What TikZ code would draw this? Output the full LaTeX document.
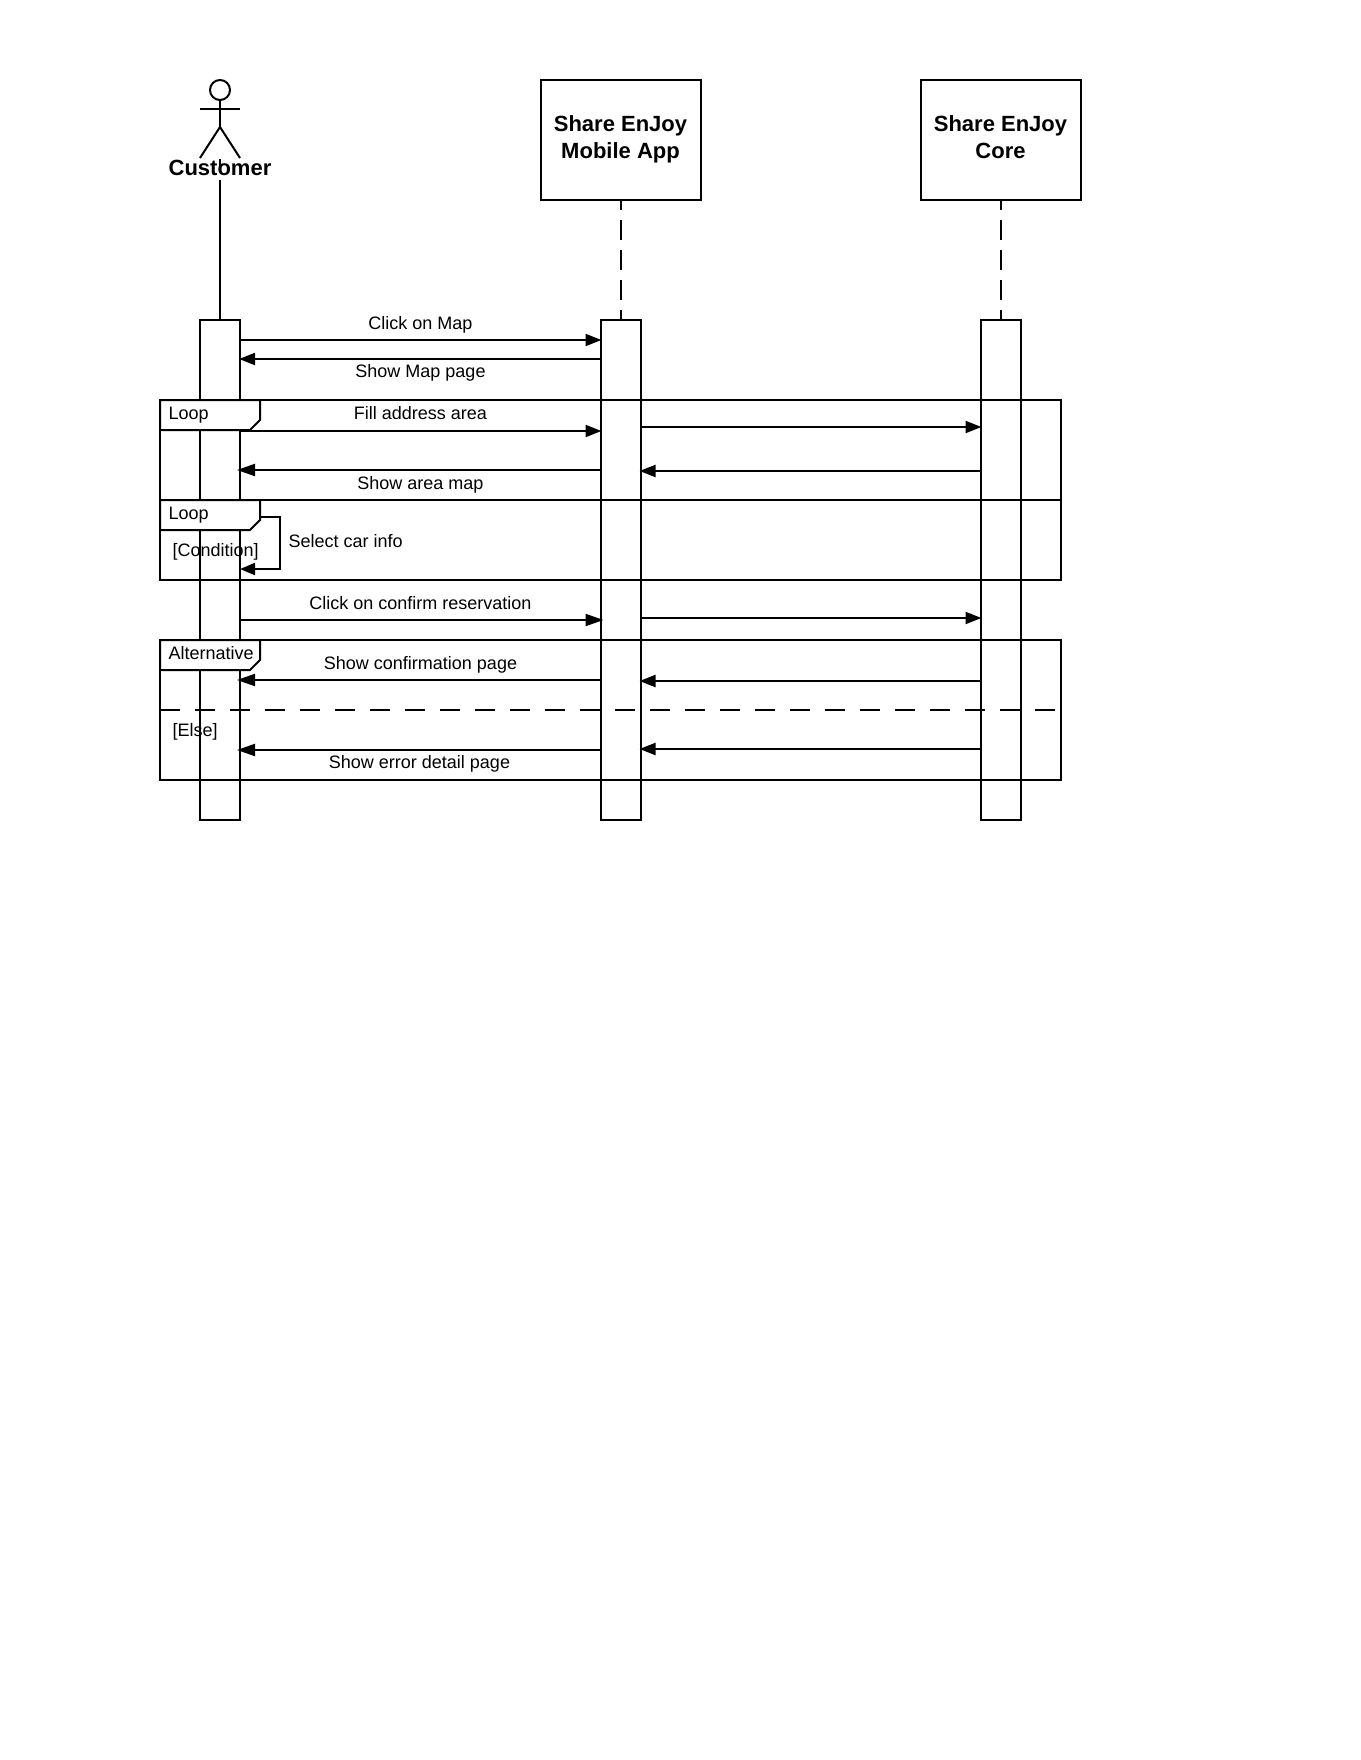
\documentclass[tikz,border=0pt]{standalone}
\usepackage{fontspec}
\setmainfont{Liberation Sans}
\usetikzlibrary{arrows.meta}
\begin{document}
\begin{tikzpicture}[x=1pt, y=-1pt, line width=2pt]
        \tikzstyle{head} = [draw, fill=white, inner sep=0, outer sep=0, minimum width=160pt, minimum height=120pt, align=center, text depth=6.2pt, font=\fontsize{22}{27}\selectfont\bfseries]
        \tikzstyle{bar} = [draw, fill=white, inner sep=0, outer sep=0, minimum width=40pt, minimum height=500pt]
        \tikzstyle{frm} = [draw, inner sep=0, outer sep=0, minimum width=901pt]
        \tikzstyle{tab} = [draw, fill=white]
        \tikzstyle{msg} = [inner sep=0, text height=13pt, text depth=4pt, font=\fontsize{18}{22}\selectfont]
        \tikzstyle{blk} = [draw, black, shorten >=-1pt, -{Triangle[length=16pt, width=12pt]}]
        \tikzstyle{blkover} = [draw, black, shorten >=-3pt, -{Triangle[length=18pt, width=12pt]}]
        \tikzstyle{life} = [draw, black, dash pattern=on 20pt off 10pt, dash phase=10pt]

        \useasboundingbox (0, 0) rectangle (1360, 1760);

        % actor
        \node[draw, circle, inner sep=0, outer sep=0, minimum size=20pt] (face) at (220, 90) {};
        \coordinate (hip) at (220, 127);
        \coordinate (handl) at (200, 109.5);
        \coordinate (handr) at (240, 109.5);
        \coordinate (footl) at (200, 158);
        \coordinate (footr) at (240, 158);
        \draw (face) -- (hip);
        \draw (handl) -- (handr);
        \draw (footl) -- (hip) -- (footr);
        \node[inner sep=0, font=\fontsize{22}{26}\selectfont\bfseries] (customer) at (220, 168) {Customer};
        \coordinate (stubtop) at (220, 159);
        \coordinate (stubend) at (220, 172);
        \draw (stubtop) -- (stubend);

        % boxes on top
        \node[head] (app) at (620.5, 140) {Share EnJoy\\Mobile App};
        \node[head] (core) at (1000.5, 140) {Share EnJoy\\Core};

        % activation bars
        \node[bar] (custbar) at (220, 570) {};
        \node[bar] (appbar) at (620.5, 570) {};
        \node[bar] (corebar) at (1000.5, 570) {};

        \draw (customer.south |- 0, 180) -- (custbar.north);
        \path[life] (app.south) -- (appbar.north);
        \path[life] (core.south) -- (corebar.north);

        % frames
        \node[frm, minimum height=100pt] (loopa) at (610.5, 450) {};
        \node[frm, minimum height=80pt] (loopb) at (610.5, 540) {};
        \node[frm, minimum height=140pt] (alt) at (610.5, 710) {};
        \draw[dash pattern=on 20pt off 15pt] (alt.west) -- (alt.east);

        \draw[tab] (160, 400) -- (260, 400) -- (260, 420) -- (250, 430) -- (160, 430) -- cycle;
        \draw[tab] (160, 500) -- (260, 500) -- (260, 520) -- (250, 530) -- (160, 530) -- cycle;
        \draw[tab] (160, 640) -- (260, 640) -- (260, 660) -- (250, 670) -- (160, 670) -- cycle;

        \node[msg, anchor=west] (loopatext) at (167.5, 414.5) {Loop};
        \node[msg, anchor=west] (loopbtext) at (167.5, 514.5) {Loop};
        \node[msg, anchor=west] (alttext) at (167.5, 655) {Alternative};
        \node[msg, anchor=west] (cond) at (171.5, 552) {[Condition]};
        \node[msg, anchor=west] (other) at (171.5, 732) {[Else]};

        % messages
        \path[blk] (custbar.east |- 0, 340) to (appbar.west |- 0, 340);
        \path[blk] (appbar.west |- 0, 359) to (custbar.east |- 0, 359);
        \path[blk] (custbar.east |- 0, 431) to (appbar.west |- 0, 431);
        \path[blk] (appbar.east |- 0, 427) to (corebar.west |- 0, 427);
        \path[blk] (corebar.west |- 0, 471) to (appbar.east |- 0, 471);
        \path[blkover] (appbar.west |- 0, 470) to (custbar.east |- 0, 470);
        \coordinate (turna) at (280, 517);
        \coordinate (turnb) at (280, 569);
        \draw[-{Triangle[length=15pt, width=12pt]}] (260, 517) -- (turna) -- (turnb) -- (custbar.east |- turnb);
        \path[blkover] (custbar.east |- 0, 620) to (appbar.west |- 0, 620);
        \path[blk] (appbar.east |- 0, 618) to (corebar.west |- 0, 618);
        \path[blk] (corebar.west |- 0, 681) to (appbar.east |- 0, 681);
        \path[blkover] (appbar.west |- 0, 680) to (custbar.east |- 0, 680);
        \path[blk] (corebar.west |- 0, 749) to (appbar.east |- 0, 749);
        \path[blkover] (appbar.west |- 0, 750) to (custbar.east |- 0, 750);

        \node[msg] (clickmap) at (420.5, 325) {Click on Map};
        \node[msg] (showmap) at (420.5, 373) {Show Map page};
        \node[msg] (fill) at (420.5, 415) {Fill address area};
        \node[msg] (showarea) at (420.5, 485) {Show area map};
        \node[msg, anchor=west] (selcar) at (287.5, 543) {Select car info};
        \node[msg] (confirm) at (420.5, 605) {Click on confirm reservation};
        \node[msg] (showconf) at (420.5, 665) {Show confirmation page};
        \node[msg] (showerr) at (419.5, 764) {Show error detail page};
    \end{tikzpicture}
\end{document}
